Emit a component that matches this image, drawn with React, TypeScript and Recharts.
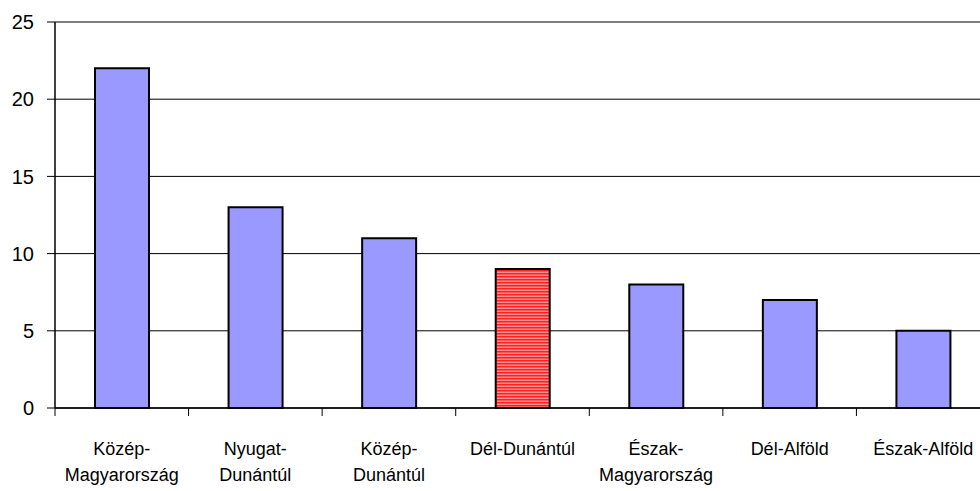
import { BarChart, Bar, XAxis, YAxis, CartesianGrid, Cell } from "recharts";

const categories = [
    "Közép-\nMagyarország",
    "Nyugat-\nDunántúl",
    "Közép-\nDunántúl",
    "Dél-Dunántúl",
    "Észak-\nMagyarország",
    "Dél-Alföld",
    "Észak-Alföld",
];
const values = [22, 13, 11, 9, 8, 7, 5];
const yTicks = [0, 5, 10, 15, 20, 25];
const highlighted = "Dél-Dunántúl";

const data = categories.map((name, i) => ({ name, value: values[i] }));

const CHART_W = 1000;
const LEFT = 55;
const RIGHT = 10;
const BAND = (CHART_W - LEFT - RIGHT) / categories.length;
const FONT = "'Liberation Sans', Arial, sans-serif";

function CategoryTick(props: any) {
    const { x, y, payload } = props;
    const lines = String(payload.value).split("\n");
    const bx = x - BAND / 2;
    return (
        <g>
            <line x1={bx} y1={y - 8} x2={bx} y2={y} stroke="#000" strokeWidth={1} />
            {lines.map((line, i) => (
                <text
                    key={i}
                    x={x}
                    y={y + 39 + i * 26}
                    textAnchor="middle"
                    fontSize={18}
                    fontFamily={FONT}
                    fill="#000"
                >
                    {line}
                </text>
            ))}
        </g>
    );
}

export default function App() {
    return (
        <div
            style={{
                position: "absolute",
                left: 0,
                top: 0,
                width: 980,
                height: 491,
                overflow: "hidden",
                background: "#fff",
            }}
        >
            <BarChart
                width={CHART_W}
                height={491}
                data={data}
                margin={{ top: 22, right: RIGHT, left: 0, bottom: 0 }}
            >
                <defs>
                    <pattern id="hatch" width={4} height={3} patternUnits="userSpaceOnUse">
                        <rect width={4} height={3} fill="#FF9090" />
                        <rect width={4} height={1.5} fill="#FF2020" />
                    </pattern>
                </defs>
                <CartesianGrid vertical={false} stroke="#000" strokeWidth={1} />
                <XAxis
                    dataKey="name"
                    interval={0}
                    height={83}
                    axisLine={{ stroke: "#000", strokeWidth: 1.5 }}
                    tickLine={false}
                    tickSize={8}
                    tickMargin={0}
                    tick={<CategoryTick />}
                />
                <YAxis
                    domain={[0, 25]}
                    ticks={yTicks}
                    width={LEFT}
                    axisLine={{ stroke: "#000", strokeWidth: 1.5 }}
                    tickLine={{ stroke: "#000" }}
                    tickSize={8}
                    tickMargin={13}
                    tick={{ fontSize: 20, fontFamily: FONT, fill: "#000" }}
                />
                <Bar
                    dataKey="value"
                    barSize={54}
                    fill="#9999FF"
                    stroke="#000"
                    strokeWidth={2}
                    isAnimationActive={false}
                >
                    {data.map((d) => (
                        <Cell
                            key={d.name}
                            fill={d.name === highlighted ? "url(#hatch)" : "#9999FF"}
                        />
                    ))}
                </Bar>
            </BarChart>
        </div>
    );
}
